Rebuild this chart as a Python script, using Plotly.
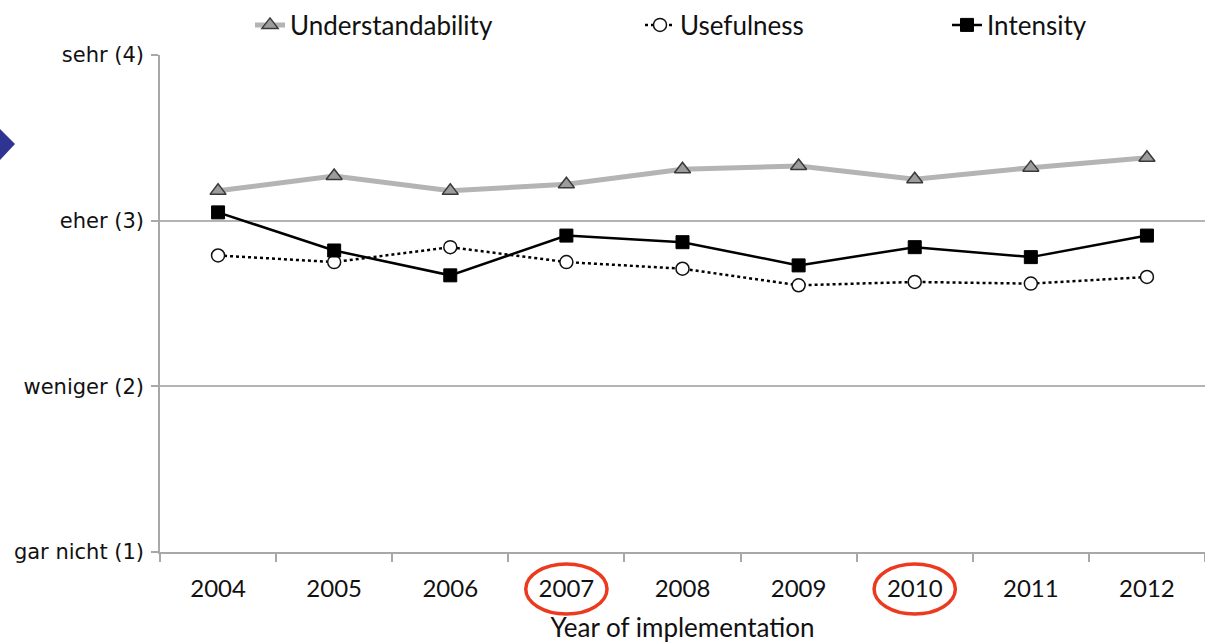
import plotly.graph_objects as go

# Survey ratings by year of implementation (scale 1 = gar nicht ... 4 = sehr)
years = ["2004", "2005", "2006", "2007", "2008", "2009", "2010", "2011", "2012"]
understandability = [3.18, 3.27, 3.18, 3.22, 3.31, 3.33, 3.25, 3.32, 3.38]
usefulness = [2.79, 2.75, 2.84, 2.75, 2.71, 2.61, 2.63, 2.62, 2.66]
intensity = [3.05, 2.82, 2.67, 2.91, 2.87, 2.73, 2.84, 2.78, 2.91]

scale_values = [1, 2, 3, 4]
scale_labels = ["gar nicht (1)", "weniger (2)", "eher (3)", "sehr (4)"]

highlighted_years = ["2007", "2010"]

W, H = 1205, 643
M_L, M_R, M_T, M_B = 160, 0, 55, 91
plot_w = W - M_L - M_R
plot_h = H - M_T - M_B

LABEL_FONT = "Lato, 'Open Sans', sans-serif"
TICK_FONT = "DejaVu Sans, Verdana, sans-serif"

fig = go.Figure()

fig.add_trace(go.Scatter(
    x=years, y=understandability, name="Understandability",
    mode="lines+markers",
    line=dict(color="#b4b4b4", width=5),
    marker=dict(symbol="triangle-up", size=14, color="#9c9c9c",
                line=dict(color="#3a3a3a", width=1.5)),
    legend="legend",
))
fig.add_trace(go.Scatter(
    x=years, y=usefulness, name="Usefulness",
    mode="lines+markers",
    line=dict(color="#000000", width=2.5, dash="dot"),
    marker=dict(symbol="circle", size=13, color="#ffffff",
                line=dict(color="#111111", width=1.5)),
    legend="legend2",
))
fig.add_trace(go.Scatter(
    x=years, y=intensity, name="Intensity",
    mode="lines+markers",
    line=dict(color="#000000", width=2.5),
    marker=dict(symbol="square", size=13, color="#000000",
                line=dict(color="#000000", width=1)),
    legend="legend3",
))


def px_x(px):
    return (px - M_L) / plot_w


def px_y(py):
    return (H - M_B - py) / plot_h


legend_style = dict(
    orientation="h", xanchor="left", yanchor="middle",
    yref="container", y=1 - 25 / H,
    bgcolor="rgba(0,0,0,0)", borderwidth=0,
    font=dict(family=LABEL_FONT, size=26, color="#111111"),
)

shapes = []

# red ellipses around the highlighted year labels
year_index = {y: i for i, y in enumerate(years)}
for yr in highlighted_years:
    i = year_index[yr]
    shapes.append(dict(
        type="circle", xref="x", yref="paper",
        x0=i - 0.35, x1=i + 0.35,
        y0=px_y(614), y1=px_y(564),
        line=dict(color="#ec3a1f", width=3.5),
        fillcolor="rgba(0,0,0,0)",
        layer="above",
    ))

# navy pointer at the left edge
shapes.append(dict(
    type="path", xref="paper", yref="paper",
    path=f"M {px_x(0)},{px_y(129)} L {px_x(15)},{px_y(144)} L {px_x(0)},{px_y(160)} Z",
    fillcolor="#2f3391", line=dict(width=0),
))

fig.update_layout(
    width=W, height=H,
    margin=dict(l=M_L, r=M_R, t=M_T, b=M_B, autoexpand=False),
    paper_bgcolor="#ffffff", plot_bgcolor="#ffffff",
    showlegend=True,
    legend=dict(x=px_x(250), **legend_style),
    legend2=dict(x=px_x(640), **legend_style),
    legend3=dict(x=px_x(947), **legend_style),
    shapes=shapes,
    xaxis=dict(
        type="category", range=[-0.5, len(years) - 0.5],
        showgrid=False, showline=True, linecolor="#a8a8a8", linewidth=1.5,
        ticks="outside", tickson="boundaries", ticklen=8, tickcolor="#a8a8a8",
        tickwidth=1.5,
        tickfont=dict(family=LABEL_FONT, size=24, color="#111111"),
        ticklabelstandoff=14,
        title=dict(text="Year of implementation", standoff=19,
                   font=dict(family=LABEL_FONT, size=26, color="#111111")),
        fixedrange=True,
    ),
    yaxis=dict(
        range=[1, 4], tickvals=scale_values, ticktext=scale_labels,
        showgrid=True, gridcolor="#b4b4b4", gridwidth=1.5,
        showline=True, linecolor="#a8a8a8", linewidth=1.5,
        ticks="outside", ticklen=7, tickcolor="#a8a8a8", tickwidth=1.5,
        tickfont=dict(family=TICK_FONT, size=21, color="#111111"),
        ticklabelstandoff=3,
        zeroline=False, fixedrange=True,
    ),
)

fig.write_html("out.html")
